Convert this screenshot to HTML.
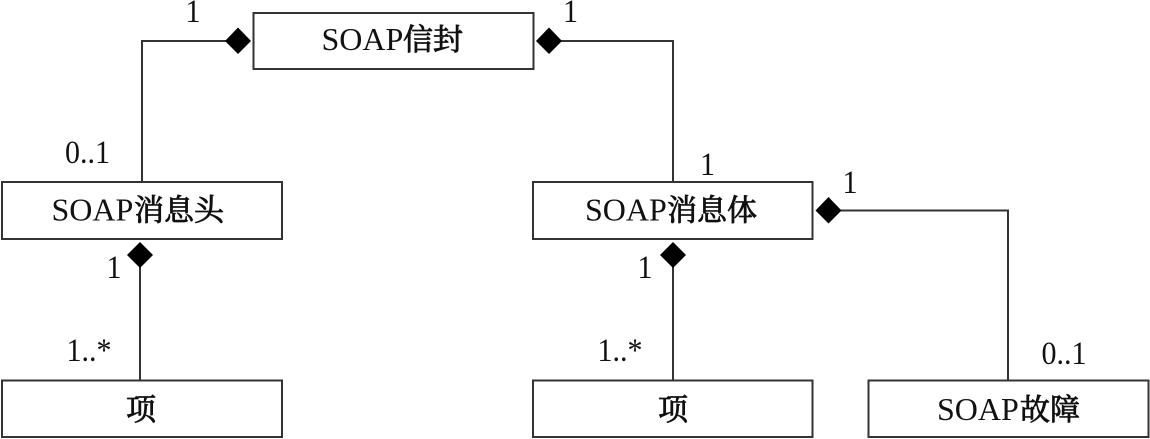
<!DOCTYPE html>
<html lang="zh">
<head>
<meta charset="utf-8">
<title>SOAP</title>
<style>
html,body{margin:0;padding:0;background:#fff;width:1150px;height:439px;overflow:hidden}
svg{display:block}
text{font-family:"Liberation Serif","Noto Serif CJK SC",serif;fill:#111}
.n{font-size:32px}
.c{font-family:"Noto Serif CJK SC","Liberation Serif",serif;font-size:30px;font-weight:400;stroke:#111;stroke-width:.85px}
.m{font-size:30px;text-anchor:middle}
rect{fill:#fff;stroke:#333;stroke-width:2}
.l{fill:none;stroke:#333;stroke-width:2}
</style>
</head>
<body>
<svg width="1150" height="439" viewBox="0 0 1150 439" xmlns="http://www.w3.org/2000/svg">
<polyline class="l" points="226,41 142,41 142,182"/>
<polyline class="l" points="560,41 673,41 673,182"/>
<polyline class="l" points="840,210.5 1008,210.5 1008,380"/>
<line class="l" x1="140" y1="266" x2="140" y2="380"/>
<line class="l" x1="673" y1="266" x2="673" y2="380"/>
<rect x="253.5" y="13" width="280" height="56"/>
<rect x="2" y="182" width="280" height="57"/>
<rect x="533" y="182" width="279.5" height="57"/>
<rect x="2" y="380.5" width="280" height="56.5"/>
<rect x="533" y="380.5" width="279.5" height="56.5"/>
<rect x="868.5" y="380.5" width="280" height="56.5"/>
<polygon points="225,41 238,27.5 251,41 238,54"/>
<polygon points="536,41 549,27.5 562,41 549,54"/>
<polygon points="815.5,210.5 828.5,197 841.5,210.5 828.5,223.5"/>
<polygon points="127,255 140,242 153,255 140,268"/>
<polygon points="660,255 673,242 686,255 673,268"/>
<text class="n" x="321.5" y="50">SOAP</text>
<text class="c" x="403" y="50">信封</text>
<text class="n" x="51.5" y="220.5">SOAP</text>
<text class="c" x="134" y="220.5">消息头</text>
<text class="n" x="585" y="220.5">SOAP</text>
<text class="c" x="667" y="220.5">消息体</text>
<text class="c" x="126" y="420">项</text>
<text class="c" x="658" y="420">项</text>
<text class="n" x="937" y="420">SOAP</text>
<text class="c" x="1020" y="420">故障</text>
<text class="m" transform="translate(193 22) scale(1 1.08)">1</text>
<text class="m" transform="translate(570.5 22) scale(1 1.08)">1</text>
<text class="m" transform="translate(87.5 163) scale(1 1.08)">0..1</text>
<text class="m" transform="translate(707.5 175) scale(1 1.08)">1</text>
<text class="m" transform="translate(850 193) scale(1 1.08)">1</text>
<text class="m" transform="translate(114 278) scale(1 1.08)">1</text>
<text class="m" transform="translate(645 278) scale(1 1.08)">1</text>
<text class="m" transform="translate(89 361) scale(1 1.08)">1..*</text>
<text class="m" transform="translate(620 361) scale(1 1.08)">1..*</text>
<text class="m" transform="translate(1064 364) scale(1 1.08)">0..1</text>
</svg>
</body>
</html>
